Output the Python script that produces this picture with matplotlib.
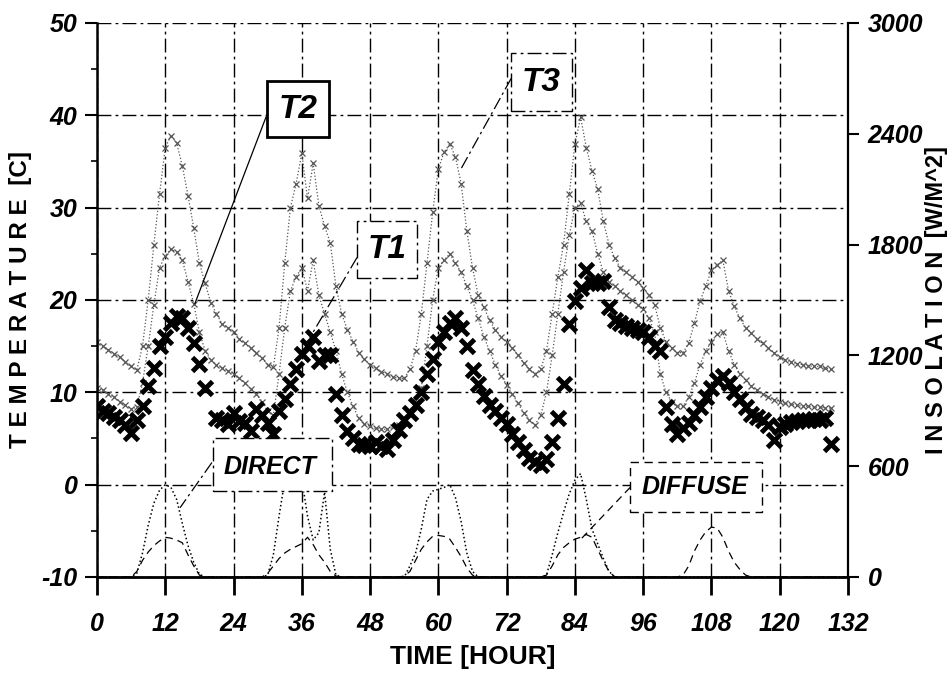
import numpy as np
import matplotlib.pyplot as plt
from matplotlib.patches import Rectangle

plt.rcParams['font.family'] = ['Liberation Sans', 'DejaVu Sans']
plt.rcParams['font.weight'] = 'bold'
plt.rcParams['axes.unicode_minus'] = False

###### DATA ######
hours = np.arange(0, 130)          # temperature samples, 1 per hour
sun_hours = np.arange(0, 133)      # insolation samples

T3 = [15.5, 15.0, 14.6, 14.2, 13.8, 13.3, 12.8, 12.4, 15.0, 20.0,
      26.0, 31.5, 36.5, 37.8, 37.0, 34.5, 31.3, 27.8, 24.0, 21.8,
      19.7, 18.5, 17.4, 17.0, 16.5, 15.8, 15.3, 14.8, 14.3, 13.7,
      13.0, 12.7, 17.0, 24.0, 30.0, 32.6, 35.9, 31.0, 34.8, 30.2,
      28.0, 26.2, 21.5, 18.5, 16.8, 15.5, 14.3, 13.6, 13.0, 12.6,
      12.2, 12.0, 11.7, 11.5, 11.5, 12.5, 14.5, 18.5, 24.0, 29.5,
      34.2, 36.0, 36.9, 35.5, 32.6, 27.5, 23.5, 20.5, 19.2, 17.8,
      16.8, 16.0, 15.4, 14.8, 14.0, 13.2, 12.5, 12.0, 12.5, 14.5,
      18.5, 22.5, 26.0, 31.5, 36.9, 39.8, 36.5, 34.0, 32.0, 28.5,
      26.0, 24.5, 23.5, 23.0, 22.5, 22.0, 21.3, 20.5, 19.5, 17.0,
      15.5, 14.8, 14.3, 14.3, 15.3, 17.5, 19.9, 21.5, 23.2, 23.8,
      24.3, 21.0, 19.3, 18.0, 17.0, 16.4, 15.8, 15.3, 14.8, 14.3,
      13.8, 13.5, 13.3, 13.1, 13.0, 12.9, 12.8, 12.8, 12.6, 12.5]

T2 = [10.5, 10.2, 9.8, 9.5, 9.0, 8.6, 8.2, 8.4, 11.0, 15.0,
      19.5, 23.5, 24.8, 25.5, 25.2, 24.3, 22.0, 19.6, 16.5, 14.5,
      13.5, 13.0, 12.6, 12.3, 12.0, 11.5, 11.0, 10.4, 9.8, 9.0,
      8.0, 7.5, 12.0, 17.0, 21.0, 22.5, 23.5, 21.0, 24.3, 20.5,
      18.5, 16.5, 14.5, 12.0, 10.0, 8.5, 7.2, 6.6, 6.3, 6.1,
      6.0, 6.0, 6.2, 6.5, 7.0, 7.8, 9.0, 10.5, 15.0, 20.0,
      23.5, 24.3, 25.0, 24.0, 23.0, 21.5, 20.0, 18.0, 16.0, 14.5,
      13.0, 11.8, 10.8, 9.8, 8.8, 7.8, 7.0, 6.5, 7.5, 10.0,
      14.0, 18.5, 23.0, 27.0, 30.0, 30.5, 28.5, 27.5, 25.0, 23.0,
      22.0, 21.5, 21.0, 20.5, 20.0, 19.5, 19.0, 18.0, 16.5, 12.0,
      10.0, 9.0, 8.5, 8.5, 9.5, 11.0, 13.0, 14.5, 15.5, 16.3,
      16.5, 14.5, 13.0, 12.0, 11.3, 10.7, 10.2, 9.8, 9.5, 9.2,
      9.0, 8.8, 8.7, 8.6, 8.5, 8.5, 8.4, 8.4, 8.3, 8.3]

T1 = [8.5, 8.0, 7.8, 7.3, 7.0, 6.5, 5.6, 7.0, 8.5, 10.7,
      12.6, 15.0, 16.0, 17.5, 18.3, 18.0, 17.0, 15.3, 13.1, 10.5,
      np.nan, 7.2, 7.0, 6.6, 7.8, 6.9, 6.7, 5.8, 8.2, 7.5,
      6.7, 5.5, 8.0, 9.3, 10.9, 12.5, 14.2, 15.0, 16.0, 13.4,
      14.0, 14.0, 9.8, 7.5, 5.8, 5.0, 4.4, 4.3, 4.2, 4.6,
      4.2, 3.9, 4.8, 5.9, 7.0, 7.8, 8.6, 10.0, 12.0, 13.6,
      15.5, 16.5, 17.5, 18.0, 17.0, 15.0, 12.4, 10.9, 9.6, 8.6,
      8.0, 7.2, 6.6, 5.5, 4.6, 3.7, 2.9, 2.5, 2.1, 2.8,
      4.6, 7.2, 10.9, 17.4, 19.9, 21.3, 23.2, 21.8, 21.8, 22.1,
      19.2, 17.8, 17.5, 17.2, 17.0, 16.8, 16.5, 16.0, 15.0, 14.5,
      8.4, 6.6, 5.5, 6.1, 6.7, 7.5, 8.4, 9.5, 10.5, 11.3,
      11.8, 11.0, 10.0, 9.3, 8.4, 7.7, 7.3, 7.0, 6.5, 4.8,
      6.2, 6.6, 6.8, 6.9, 7.0, 7.0, 7.1, 7.0, 7.2, 4.4]

direct = ([0] * 7 + [20, 130, 280, 400, 470, 500, 485, 420, 290, 170, 80, 15]
          + [0] * 11 + [10, 120, 330, 520, 560, 560, 530, 330, 200, 240, 460, 150, 10]
          + [0] * 11 + [0, 60, 130, 260, 420, 465, 475, 485, 500, 430, 300, 130, 30]
          + [0] * 12 + [10, 120, 240, 350, 450, 525, 560, 420, 260, 180, 100, 30]
          + [0] * 42)

diffuse = ([0] * 7 + [30, 90, 135, 170, 195, 215, 210, 200, 185, 120, 60, 10]
           + [0] * 11 + [20, 60, 100, 130, 150, 165, 180, 215, 175, 120, 80, 30, 5]
           + [0] * 11 + [5, 30, 90, 150, 190, 220, 225, 220, 205, 160, 110, 50, 10]
           + [0] * 12 + [10, 60, 120, 160, 185, 205, 215, 230, 215, 150, 85, 30]
           + [0] * 12 + [10, 60, 140, 200, 245, 270, 265, 215, 140, 80, 40, 10]
           + [0] * 18)

x_ticks = np.arange(0, 133, 12)
t_ticks = np.arange(-10, 51, 10)
w_ticks = np.arange(0, 3001, 600)

###### PLOT ######
fig = plt.figure(figsize=(9.49, 6.8), dpi=100)
ax = fig.add_axes([0.1022, 0.1515, 0.7914, 0.8147])
ax2 = ax.twinx()

grid_ls = (0, (10, 3, 2, 3))
ax.grid(True, linestyle=grid_ls, color='black', linewidth=1.0)
ax.set_axisbelow(True)

ax.plot(hours, T3, linestyle=':', color='#555555', linewidth=0.9,
        marker='x', markersize=5, markeredgewidth=0.9, zorder=2)
ax.plot(hours, T2, linestyle=':', color='#555555', linewidth=0.9,
        marker='x', markersize=5, markeredgewidth=0.9, zorder=2)
ax.plot(hours, T1, linestyle='none', color='black',
        marker='x', markersize=10, markeredgewidth=3.5, zorder=3)

ax2.plot(sun_hours, direct, linestyle=':', color='black', linewidth=1.1)
ax2.plot(sun_hours, diffuse, linestyle=(0, (6, 4)), color='black', linewidth=0.9)

ax.set_xlim(0, 132)
ax.set_ylim(-10, 50)
ax2.set_ylim(0, 3000)
ax.set_xticks(x_ticks)
ax.set_yticks(t_ticks)
ax.set_yticks(np.arange(-5, 50, 10), minor=True)
ax2.set_yticks(w_ticks)

for a in (ax, ax2):
    a.spines['top'].set_visible(False)
    for lab in a.get_xticklabels() + a.get_yticklabels():
        lab.set_fontstyle('italic')
        lab.set_fontweight('bold')
ax.spines['right'].set_visible(False)
ax2.spines['left'].set_visible(False)
ax.spines['left'].set_linewidth(1.8)
ax.spines['bottom'].set_linewidth(2.0)
ax2.spines['right'].set_linewidth(1.6)

ax.tick_params(axis='x', direction='out', length=13, width=2, pad=12, labelsize=18)
ax.tick_params(axis='y', which='major', direction='out', length=9, width=1.5, pad=5, labelsize=18)
ax.tick_params(axis='y', which='minor', direction='out', length=4, width=1.2)
ax2.tick_params(axis='y', direction='out', length=8, width=1.5, pad=6, labelsize=18)

ax.set_xlabel('TIME [HOUR]', fontsize=19, fontweight='bold', fontstyle='normal')
ax.xaxis.set_label_coords(0.5, -0.122)
ax.set_ylabel('T E M P E R A T U R E  [C]', fontsize=17.5, fontweight='bold', fontstyle='normal')
ax.yaxis.set_label_coords(-0.086, 0.5)
ax2.set_ylabel('I N S O L A T I O N  [W/M^2]', fontsize=17, fontweight='bold',
               fontstyle='normal', rotation=90)
ax2.yaxis.set_label_coords(1.102, 0.5)

# label boxes: (text, box x0, x1, y0, y1, text x, text y, leader from, leader to, style, width, size)
T_labels = [
    ('T2', 29.9, 40.8, 37.6, 43.7, 35.3, 40.6, (29.7, 39.8), (17.2, 19.6), '-', 2.0, 24),
    ('T3', 72.8, 83.5, 40.5, 46.7, 78.1, 43.6, (72.8, 44.0), (63.8, 34.0), grid_ls, 1.0, 24),
    ('T1', 45.7, 56.2, 22.4, 28.6, 51.0, 25.5, (45.7, 24.6), (37.4, 15.9), grid_ls, 1.0, 24),
]
W_labels = [
    ('DIRECT', 20.4, 41.3, 468, 755, 30.4, 598, (20.2, 620), (14.6, 375), grid_ls, 1.0, 18),
    ('DIFFUSE', 93.7, 116.9, 350, 620, 105.1, 485, (93.7, 485), (84.9, 200), (0, (6, 4)), 1.0, 18),
]
for target, labels in ((ax, T_labels), (ax2, W_labels)):
    for text, x0, x1, y0, y1, tx, ty, p0, p1, ls, lw, fs in labels:
        target.add_patch(Rectangle((x0, y0), x1 - x0, y1 - y0, facecolor='white',
                                   edgecolor='black', linestyle=ls if lw < 1.5 else '-',
                                   linewidth=lw, zorder=5))
        target.plot([p0[0], p1[0]], [p0[1], p1[1]], color='black', linewidth=0.9,
                    linestyle=ls, zorder=4)
        target.text(tx, ty, text, ha='center', va='center', fontsize=fs,
                    fontweight='bold', fontstyle='italic', zorder=6)

fig.savefig('out.png', dpi=100)
